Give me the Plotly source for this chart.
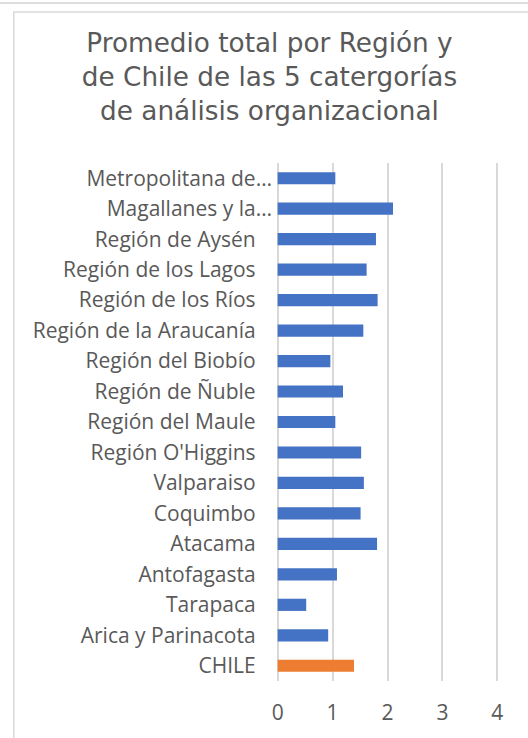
import plotly.graph_objects as go

# categories listed bottom to top (as drawn on the y axis)
regiones = [
    "CHILE",
    "Arica y Parinacota",
    "Tarapaca",
    "Antofagasta",
    "Atacama",
    "Coquimbo",
    "Valparaiso",
    "Región O'Higgins",
    "Región del Maule",
    "Región de Ñuble",
    "Región del Biobío",
    "Región de la Araucanía",
    "Región de los Ríos",
    "Región de los Lagos",
    "Región de Aysén",
    "Magallanes y la…",
    "Metropolitana de…",
]
promedio = [1.39, 0.92, 0.52, 1.08, 1.81, 1.51, 1.57, 1.52, 1.05, 1.19,
            0.96, 1.56, 1.82, 1.62, 1.79, 2.10, 1.05]
x_ticks = [0, 1, 2, 3, 4]

BLUE = "#4472C4"
ORANGE = "#ED7D31"
TEXT = "#595959"
GRID = "#D9D9D9"

colores = [ORANGE if r == "CHILE" else BLUE for r in regiones]
# truncated labels sit a little further right in the original
etiquetas = [r if r.endswith("…") else r + "\u00a0\u00a0\u00a0" for r in regiones]

fig = go.Figure()
fig.add_trace(go.Bar(
    x=promedio,
    y=etiquetas,
    orientation="h",
    marker=dict(color=colores, line=dict(width=0)),
    hoverinfo="x+y",
))

W, H = 528, 738
# small padding on the x range so plotly keeps the gridlines at 0 and 4
PAD = 0.03
UNIT = 54.75
L = 278 - PAD * UNIT
R = W - (L + (4 + 2 * PAD) * UNIT)
T, B = 163, 57
pw, ph = W - L - R, H - T - B


def px(xp):
    return (xp - L) / pw


def py(yp):
    return (H - B - yp) / ph


fig.update_layout(
    width=W, height=H,
    margin=dict(l=L, r=R, t=T, b=B, pad=0, autoexpand=False),
    paper_bgcolor="white",
    plot_bgcolor="white",
    showlegend=False,
    bargap=0.6,
    font=dict(family="Open Sans", color=TEXT),
    title=dict(
        text="Promedio total por Región y<br>de Chile de las 5 catergorías<br>de análisis organizacional",
        x=269.5 / W, xanchor="center",
        y=1 - 52 / H, yanchor="top",
        font=dict(family="DejaVu Sans", size=26.3, color=TEXT),
    ),
    xaxis=dict(
        range=[-PAD, 4 + PAD],
        tickvals=x_ticks,
        showgrid=True, gridcolor=GRID, gridwidth=2,
        zeroline=False, showline=False,
        ticks="", ticklabelstandoff=17,
        tickfont=dict(size=21, color=TEXT),
        fixedrange=True,
    ),
    yaxis=dict(
        showgrid=False, zeroline=False, showline=False,
        ticks="", ticklabelstandoff=3,
        tickfont=dict(size=21, color=TEXT),
        fixedrange=True,
    ),
    shapes=[
        # page rule above the chart
        dict(type="line", xref="paper", yref="paper",
             x0=px(-5), x1=px(W + 5), y0=py(3), y1=py(3),
             line=dict(color="#DDDDDD", width=2)),
        # chart frame
        dict(type="rect", xref="paper", yref="paper",
             x0=px(15), x1=px(W + 20), y0=py(H + 20), y1=py(12),
             line=dict(color=GRID, width=1.5), layer="below"),
    ],
)

fig.write_html("out.html", config={"displayModeBar": False},
               post_script="document.body.style.margin='0';")
